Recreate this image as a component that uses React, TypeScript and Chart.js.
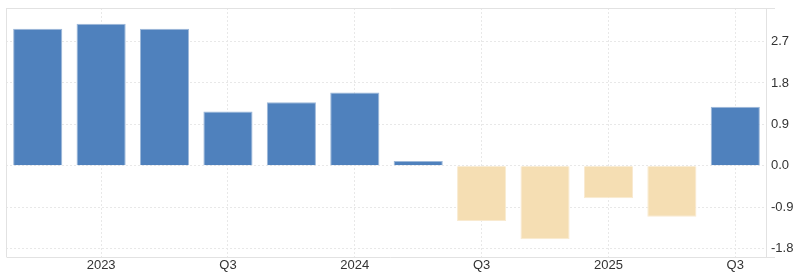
import React, { useEffect, useRef } from "react";
import { Chart, registerables } from "chart.js";

Chart.register(...registerables);

const categories = [
  "Q4 2022", "Q1 2023", "Q2 2023", "Q3 2023", "Q4 2023", "Q1 2024",
  "Q2 2024", "Q3 2024", "Q4 2024", "Q1 2025", "Q2 2025", "Q3 2025",
];
const values = [2.98, 3.09, 2.98, 1.18, 1.38, 1.59, 0.1, -1.2, -1.6, -0.71, -1.11, 1.28];
const xTickLabels = ["", "2023", "", "Q3", "", "2024", "", "Q3", "", "2025", "", "Q3"];
const yTickValues = [-1.8, -0.9, 0, 0.9, 1.8, 2.7];
const yMin = -1.985;
const yMax = 3.43;

const POS_FILL = "#4f81bd";
const POS_BORDER = "#9db8d9";
const NEG_FILL = "#f5deb3";
const NEG_BORDER = "#f9ead0";
const GRID = "#e8e8e8";
const FRAME = "#e2e2e2";
const TEXT = "#333333";

const framePlugin = {
  id: "frame",
  beforeDatasetsDraw(chart: any) {
    const { ctx, chartArea } = chart;
    const { left, right, top, bottom } = chartArea;
    ctx.save();
    ctx.strokeStyle = FRAME;
    ctx.lineWidth = 1;
    ctx.beginPath();
    ctx.moveTo(left + 0.5, top + 0.5);
    ctx.lineTo(right + 8, top + 0.5);
    ctx.moveTo(left + 0.5, bottom + 0.5);
    ctx.lineTo(right + 8, bottom + 0.5);
    ctx.moveTo(left + 0.5, top);
    ctx.lineTo(left + 0.5, bottom);
    ctx.moveTo(right - 0.5, top);
    ctx.lineTo(right - 0.5, bottom);
    ctx.stroke();
    ctx.restore();
  },
};

export default function App() {
  const ref = useRef<HTMLCanvasElement>(null);

  useEffect(() => {
    if (!ref.current) return;
    const chart = new Chart(ref.current, {
      type: "bar",
      data: {
        labels: categories,
        datasets: [
          {
            data: values,
            backgroundColor: values.map((v) => (v >= 0 ? POS_FILL : NEG_FILL)),
            borderColor: values.map((v) => (v >= 0 ? POS_BORDER : NEG_BORDER)),
            borderWidth: 1,
            categoryPercentage: 1,
            barPercentage: 0.775,
          },
        ],
      },
      options: {
        responsive: false,
        animation: false,
        layout: { padding: { left: 6, top: 8, right: 0, bottom: 0 } },
        plugins: { legend: { display: false }, tooltip: { enabled: false } },
        scales: {
          x: {
            type: "category",
            offset: true,
            grid: {
              offset: false,
              drawTicks: false,
              color: (c: any) => (xTickLabels[c.index] ? GRID : "transparent"),
              lineWidth: 1,
            },
            border: { display: false, dash: [2, 2] },
            ticks: {
              autoSkip: false,
              maxRotation: 0,
              color: TEXT,
              padding: 1,
              font: { family: "'Liberation Sans', Arial, sans-serif", size: 13 },
              callback: (_v: any, i: number) => xTickLabels[i],
            },
            afterFit: (axis: any) => {
              axis.height = 20;
              axis.paddingLeft = 0;
              axis.paddingRight = 0;
            },
          },
          y: {
            position: "right",
            min: yMin,
            max: yMax,
            grid: { color: GRID, drawTicks: false },
            border: { display: false, dash: [2, 2] },
            afterBuildTicks: (axis: any) => {
              axis.ticks = yTickValues.map((v) => ({ value: v }));
            },
            ticks: {
              color: TEXT,
              padding: 4,
              font: { family: "'Liberation Sans', Arial, sans-serif", size: 13 },
              callback: (v: any) => Number(v).toFixed(1),
            },
            afterFit: (axis: any) => {
              axis.width = 33;
              axis.paddingTop = 0;
              axis.paddingBottom = 0;
            },
          },
        },
      },
      plugins: [framePlugin],
    });
    return () => chart.destroy();
  }, []);

  return (
    <div style={{ position: "fixed", left: 0, top: 0, width: 800, height: 277, background: "#fff" }}>
      <canvas ref={ref} width={800} height={277} />
    </div>
  );
}
